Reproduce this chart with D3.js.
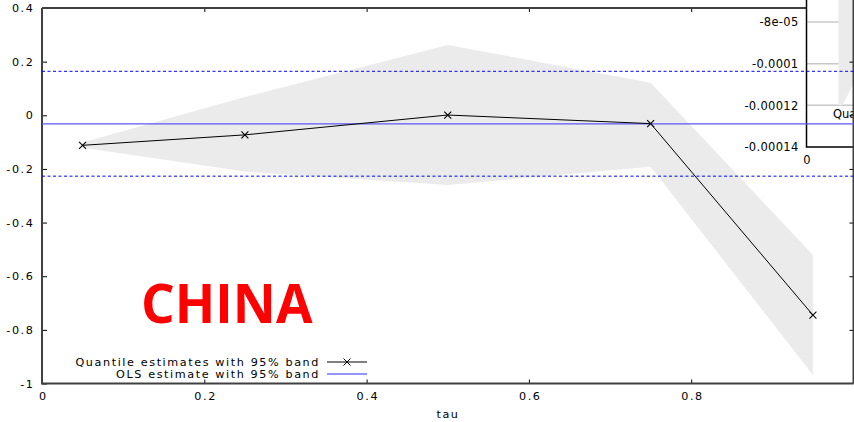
<!DOCTYPE html>
<html><head><meta charset="utf-8">
<script src="https://cdn.jsdelivr.net/npm/d3@7"></script>
<style>
html,body{margin:0;padding:0;background:#fff;}
svg{display:block;font-family:"DejaVu Sans",sans-serif;}
</style></head>
<body><svg id="c" width="854" height="422"></svg>
<script>
// ---- data ----
const tau = [0.05, 0.25, 0.5, 0.75, 0.95];
const quantEst = [-0.112, -0.073, 0.001, -0.031, -0.745];
const bandUpper = [-0.101, 0.068, 0.262, 0.121, -0.521];
const bandLower = [-0.121, -0.210, -0.260, -0.192, -0.968];
const olsEst = -0.032;
const olsUpper = 0.164;
const olsLower = -0.227;
const xTicks = [0, 0.2, 0.4, 0.6, 0.8];
const xTickLabels = ["0", "0.2", "0.4", "0.6", "0.8"];
const yTicks = [0.4, 0.2, 0, -0.2, -0.4, -0.6, -0.8, -1];
const yTickLabels = ["0.4", "0.2", "0", "-0.2", "-0.4", "-0.6", "-0.8", "-1"];
const legendLabels = ["Quantile estimates with 95% band", "OLS estimate with 95% band"];
const title = "CHINA";
const xLabel = "tau";
// inset (partly visible neighbouring chart)
const insetTicks = [-0.00008, -0.0001, -0.00012, -0.00014];
const insetTickLabels = ["-8e-05", "-0.0001", "-0.00012", "-0.00014"];
const insetXTicks = [0];
const insetXTickLabels = ["0"];
const insetTau = [0.16, 0.18, 0.24, 0.30];
const insetUpper = [-0.00005, -0.00005, -0.00005, -0.00005];
const insetLower = [-0.00012, -0.00012, -0.000109, -0.000098];
const insetLegend = "Quantile estimates with 95% band";

// ---- layout ----
const svg = d3.select("#c");
const L = 42, R = 853.5, T = 8, B = 383.5;
const x = d3.scaleLinear().domain([0, 1]).range([L, R]);
const y = d3.scaleLinear().domain([-1, 0.4]).range([B, T]);
const frameCol = "#404040";
const FS = 11.2, LS = 1.6;

// band
const bandData = tau.map((t, i) => ({t, u: bandUpper[i], l: bandLower[i]}));
svg.append("path").datum(bandData)
  .attr("d", d3.area().x(d => x(d.t)).y0(d => y(d.l)).y1(d => y(d.u)))
  .attr("fill", "#ebebeb");

// axes
const fmtY = v => yTickLabels[yTicks.indexOf(v)];
const fmtX = v => xTickLabels[xTicks.indexOf(v)];
const gl = svg.append("g").attr("transform", `translate(${L},0)`)
  .call(d3.axisLeft(y).tickValues(yTicks).tickFormat(fmtY).tickSize(-5).tickPadding(7.5));
const gb = svg.append("g").attr("transform", `translate(0,${B})`)
  .call(d3.axisBottom(x).tickValues(xTicks).tickFormat(fmtX).tickSize(-4).tickPadding(9));
const gt = svg.append("g").attr("transform", `translate(0,${T})`)
  .call(d3.axisTop(x).tickValues(xTicks.slice(1)).tickFormat("").tickSize(-4));
[gl, gb, gt].forEach(g => {
  g.select(".domain").remove();
  g.selectAll(".tick line").attr("stroke", "#000").attr("stroke-width", 1);
  g.selectAll("text").attr("font-family", "DejaVu Sans").attr("font-size", FS)
    .attr("letter-spacing", LS).attr("fill", "#000");
});
gb.selectAll("text").attr("dx", LS / 2);
// frame
svg.append("path").attr("d", `M${L},${T}V${B}H${R}`).attr("fill", "none")
  .attr("stroke", frameCol).attr("stroke-width", 2);
svg.append("line").attr("x1", L).attr("x2", R).attr("y1", T).attr("y2", T)
  .attr("stroke", frameCol).attr("stroke-width", 2);

// ---- inset ----
const IL = 806.5, IB = 147;
const ix = d3.scaleLinear().domain([0, 1]).range([IL, IL + 200]);
const iy = d3.scaleLinear().domain([-0.00014, -0.00008]).range([IB, 22]);
const ig = svg.append("g");
ig.append("rect").attr("x", IL).attr("y", 0).attr("width", 854 - IL).attr("height", IB).attr("fill", "#fff");
ig.append("clipPath").attr("id", "iclip").append("rect")
  .attr("x", IL).attr("y", 0).attr("width", 854 - IL).attr("height", IB);
const ic = ig.append("g").attr("clip-path", "url(#iclip)");
ic.selectAll("line.grid").data(insetTicks.slice(0, 3)).join("line")
  .attr("x1", IL).attr("x2", 854).attr("y1", d => iy(d)).attr("y2", d => iy(d))
  .attr("stroke", "#c8c8c8").attr("stroke-width", 1.5);
const iband = insetTau.map((t, i) => ({t, u: insetUpper[i], l: insetLower[i]}));
ic.append("path").datum(iband)
  .attr("d", d3.area().x(d => ix(d.t)).y0(d => iy(d.l)).y1(d => iy(d.u)))
  .attr("fill", "#ebebeb");
ic.append("text").attr("x", 833).attr("y", iy(-0.000126)).attr("font-size", 11.5).text(insetLegend);
const igl = ig.append("g").attr("transform", `translate(${IL},0)`)
  .call(d3.axisLeft(iy).tickValues(insetTicks).tickFormat(v => insetTickLabels[insetTicks.indexOf(v)]).tickSize(0).tickPadding(8));
igl.select(".domain").remove();
igl.selectAll("text").attr("font-family", "DejaVu Sans").attr("font-size", 11.5)
  .attr("letter-spacing", 0.3).attr("fill", "#000");
const igb = ig.append("g").attr("transform", `translate(0,${IB})`)
  .call(d3.axisBottom(ix).tickValues(insetXTicks).tickFormat(v => insetXTickLabels[insetXTicks.indexOf(v)]).tickSize(0).tickPadding(9));
igb.select(".domain").remove();
igb.selectAll("text").attr("font-family", "DejaVu Sans").attr("font-size", 11.5).attr("fill", "#000");
ig.append("path").attr("d", `M${IL},0V${IB}H854`).attr("fill", "none")
  .attr("stroke", "#000").attr("stroke-width", 1.5);

// right frame + mirror ticks
const gr = svg.append("g").attr("transform", `translate(${R},0)`)
  .call(d3.axisRight(y).tickValues(yTicks.slice(1, -1)).tickFormat("").tickSize(-4));
gr.select(".domain").remove();
gr.selectAll(".tick line").attr("stroke", "#000");
svg.append("line").attr("x1", R).attr("x2", R).attr("y1", 0).attr("y2", B)
  .attr("stroke", frameCol).attr("stroke-width", 2);

// ---- OLS lines ----
svg.append("line").attr("x1", L).attr("x2", 854).attr("y1", y(olsEst)).attr("y2", y(olsEst))
  .attr("stroke", "#5a5af0").attr("stroke-width", 1.3);
[olsUpper, olsLower].forEach(v => {
  svg.append("line").attr("x1", L).attr("x2", 854).attr("y1", y(v)).attr("y2", y(v))
    .attr("stroke", "#0000ff").attr("stroke-width", 1).attr("stroke-dasharray", "3,2.5");
});

// ---- quantile line ----
const qData = tau.map((t, i) => ({t, v: quantEst[i]}));
svg.append("path").datum(qData)
  .attr("d", d3.line().x(d => x(d.t)).y(d => y(d.v)))
  .attr("fill", "none").attr("stroke", "#000").attr("stroke-width", 1);
const cross = "M-3.5,-3.5L3.5,3.5M-3.5,3.5L3.5,-3.5";
svg.selectAll("path.mk").data(qData).join("path").attr("class", "mk")
  .attr("transform", d => `translate(${x(d.t)},${y(d.v)})`)
  .attr("d", cross).attr("stroke", "#000").attr("stroke-width", 1.1).attr("fill", "none");

// ---- legend ----
const lg = svg.append("g").attr("font-size", FS).attr("letter-spacing", LS);
lg.append("text").attr("x", 320).attr("y", 365.5).attr("text-anchor", "end").text(legendLabels[0]);
lg.append("text").attr("x", 320).attr("y", 377.5).attr("text-anchor", "end").text(legendLabels[1]);
lg.append("line").attr("x1", 327).attr("x2", 367).attr("y1", 362).attr("y2", 362).attr("stroke", "#000");
lg.append("path").attr("transform", "translate(347,362)").attr("d", cross).attr("stroke", "#000");
lg.append("line").attr("x1", 327).attr("x2", 367).attr("y1", 374).attr("y2", 374).attr("stroke", "#7070ff").attr("stroke-width", 1.3);

// ---- titles ----
svg.append("text").attr("x", 448).attr("y", 418).attr("text-anchor", "middle")
  .attr("font-size", FS).attr("letter-spacing", LS).text(xLabel);
svg.append("text").attr("x", 141).attr("y", 323)
  .attr("font-family", "'Open Sans', sans-serif").attr("font-weight", "bold")
  .attr("font-size", 53).attr("fill", "#ff0000").text(title);
</script></body></html>
